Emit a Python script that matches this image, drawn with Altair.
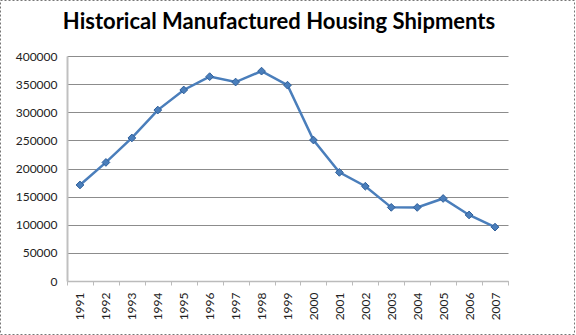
import altair as alt
import pandas as pd

years = [str(y) for y in range(1991, 2008)]
shipments = [170700, 210800, 254300, 303900, 339600, 363300, 353700, 373100, 348100,
             250600, 193100, 168500, 130900, 130800, 146700, 117400, 95800]
y_ticks = [0, 50000, 100000, 150000, 200000, 250000, 300000, 350000, 400000]
title_text = "Historical Manufactured Housing Shipments"

df = pd.DataFrame({"year": years, "shipments": shipments})

W, H = 441, 225

base = alt.Chart(df).encode(
    x=alt.X("year:O", scale=alt.Scale(type="band", paddingInner=0, paddingOuter=0),
            axis=alt.Axis(title=None, labelAngle=-90, labelFont="Lato", labelFontSize=12,
                          labelColor="#222", domainColor="#BBBBBB", domainWidth=1.5,
                          tickColor="#BBBBBB", tickSize=4, tickBand="extent",
                          labelPadding=7, grid=False, labelOverlap=False)),
    y=alt.Y("shipments:Q", scale=alt.Scale(domain=[0, 400000]),
            axis=alt.Axis(title=None, values=y_ticks,
                          format="d", labelFont="Lato", labelFontSize=12,
                          labelColor="#222", ticks=False, labelPadding=10,
                          labelOverlap=False,
                          domainColor="#C0C0C0", domainWidth=2,
                          gridColor="#8C8C8C", gridWidth=1)),
)

line = base.mark_line(color="#4A7EBB", strokeWidth=2.5)

points = base.mark_point(shape="diamond", filled=True, size=60, color="#4A7EBB",
                         stroke="#2F5F9A", strokeWidth=1, opacity=1)

title = alt.Chart(pd.DataFrame({"t": [title_text]})).mark_text(
    font="Lato", fontSize=22, fontWeight="bold", color="black",
    align="center", baseline="alphabetic").encode(
    text="t:N", x=alt.value(212), y=alt.value(-27))

border = alt.Chart(pd.DataFrame({"a": [0]})).mark_rect(
    fill=None, stroke="#777777", strokeDash=[2, 2], strokeWidth=1).encode(
    x=alt.value(-66.5), x2=alt.value(507.5), y=alt.value(-55.5), y2=alt.value(278.5))

chart = alt.layer(line, points, title, border).properties(
    width=W, height=H,
    padding={"left": 67, "top": 56, "right": 68, "bottom": 54},
    autosize=alt.AutoSizeParams(type="none"),
    background="white",
).configure_view(stroke=None)

chart.save("out.html", embed_options={"renderer": "svg", "actions": False})
